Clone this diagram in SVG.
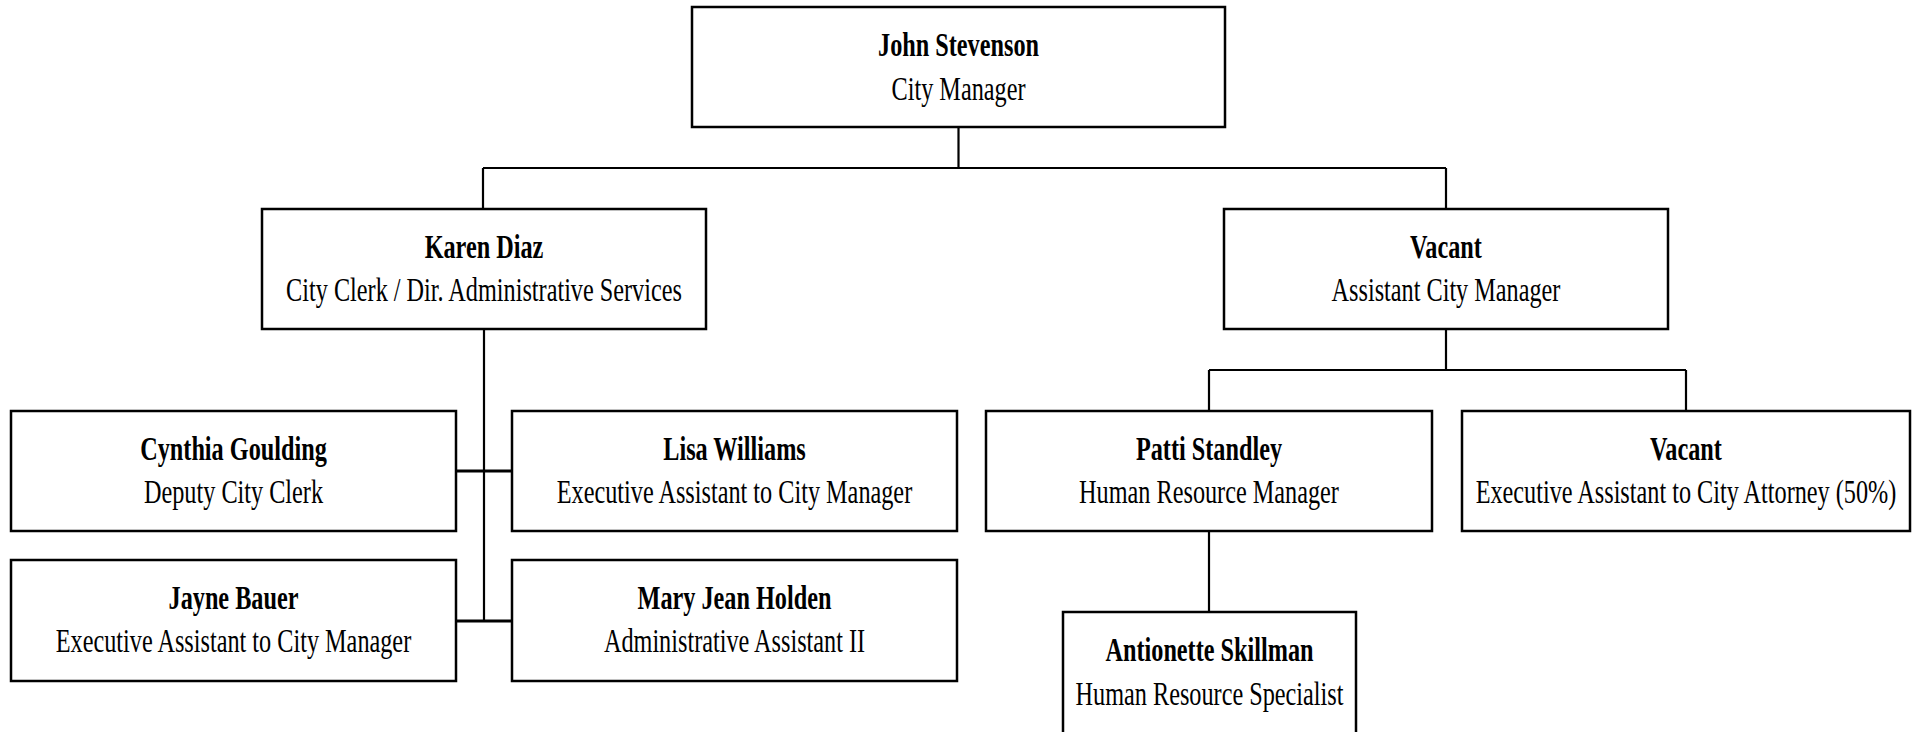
<svg xmlns="http://www.w3.org/2000/svg" width="1913" height="732" viewBox="0 0 1913 732">
<style>
.box{fill:#fff;stroke:#000;stroke-width:2.5}
.n{font-family:"Liberation Serif","Times New Roman",serif;font-size:33px;font-weight:bold;text-anchor:middle;fill:#000}
.t{font-family:"Liberation Serif","Times New Roman",serif;font-size:33px;text-anchor:middle;fill:#000}
.c{fill:none;stroke:#000;stroke-width:2.2}
</style>
<rect width="1913" height="732" fill="#fff"/>
<g id="connectors">
<path class="c" d="M958.5 127V168M483 168H1446M483 168V209M1446 168V209"/>
<path class="c" d="M484 329V622"/>
<path class="c" style="stroke-width:3" d="M456 471H512M456 621H512"/>
<path class="c" d="M1446 329V370M1209 370H1686M1209 370V411M1686 370V411"/>
<path class="c" d="M1209 531V612"/>
</g>
<g id="john">
<rect class="box" x="692" y="7" width="533" height="120"/>
<text class="n" transform="translate(958.5,56) scale(0.735,1)">John Stevenson</text>
<text class="t" transform="translate(958.5,100) scale(0.735,1)">City Manager</text>
</g>
<g id="karen">
<rect class="box" x="262" y="209" width="444" height="120"/>
<text class="n" transform="translate(484,258) scale(0.735,1)">Karen Diaz</text>
<text class="t" transform="translate(484,301) scale(0.735,1)">City Clerk / Dir. Administrative Services</text>
</g>
<g id="acm">
<rect class="box" x="1224" y="209" width="444" height="120"/>
<text class="n" transform="translate(1446,258) scale(0.735,1)">Vacant</text>
<text class="t" transform="translate(1446,301) scale(0.735,1)">Assistant City Manager</text>
</g>
<g id="cynthia">
<rect class="box" x="11" y="411" width="445" height="120"/>
<text class="n" transform="translate(233.5,460) scale(0.735,1)">Cynthia Goulding</text>
<text class="t" transform="translate(233.5,503) scale(0.735,1)">Deputy City Clerk</text>
</g>
<g id="lisa">
<rect class="box" x="512" y="411" width="445" height="120"/>
<text class="n" transform="translate(734.5,460) scale(0.735,1)">Lisa Williams</text>
<text class="t" transform="translate(734.5,503) scale(0.735,1)">Executive Assistant to City Manager</text>
</g>
<g id="jayne">
<rect class="box" x="11" y="560" width="445" height="121"/>
<text class="n" transform="translate(233.5,609) scale(0.735,1)">Jayne Bauer</text>
<text class="t" transform="translate(233.5,652) scale(0.735,1)">Executive Assistant to City Manager</text>
</g>
<g id="maryjean">
<rect class="box" x="512" y="560" width="445" height="121"/>
<text class="n" transform="translate(734.5,609) scale(0.735,1)">Mary Jean Holden</text>
<text class="t" transform="translate(734.5,652) scale(0.735,1)">Administrative Assistant II</text>
</g>
<g id="patti">
<rect class="box" x="986" y="411" width="446" height="120"/>
<text class="n" transform="translate(1209,460) scale(0.735,1)">Patti Standley</text>
<text class="t" transform="translate(1209,503) scale(0.735,1)">Human Resource Manager</text>
</g>
<g id="vacant-ea">
<rect class="box" x="1462" y="411" width="448" height="120"/>
<text class="n" transform="translate(1686,460) scale(0.735,1)">Vacant</text>
<text class="t" transform="translate(1686,503) scale(0.735,1)">Executive Assistant to City Attorney (50%)</text>
</g>
<g id="antionette">
<rect class="box" x="1063" y="612" width="293" height="130"/>
<text class="n" transform="translate(1209.5,661) scale(0.735,1)">Antionette Skillman</text>
<text class="t" transform="translate(1209.5,705) scale(0.735,1)">Human Resource Specialist</text>
</g>
</svg>
